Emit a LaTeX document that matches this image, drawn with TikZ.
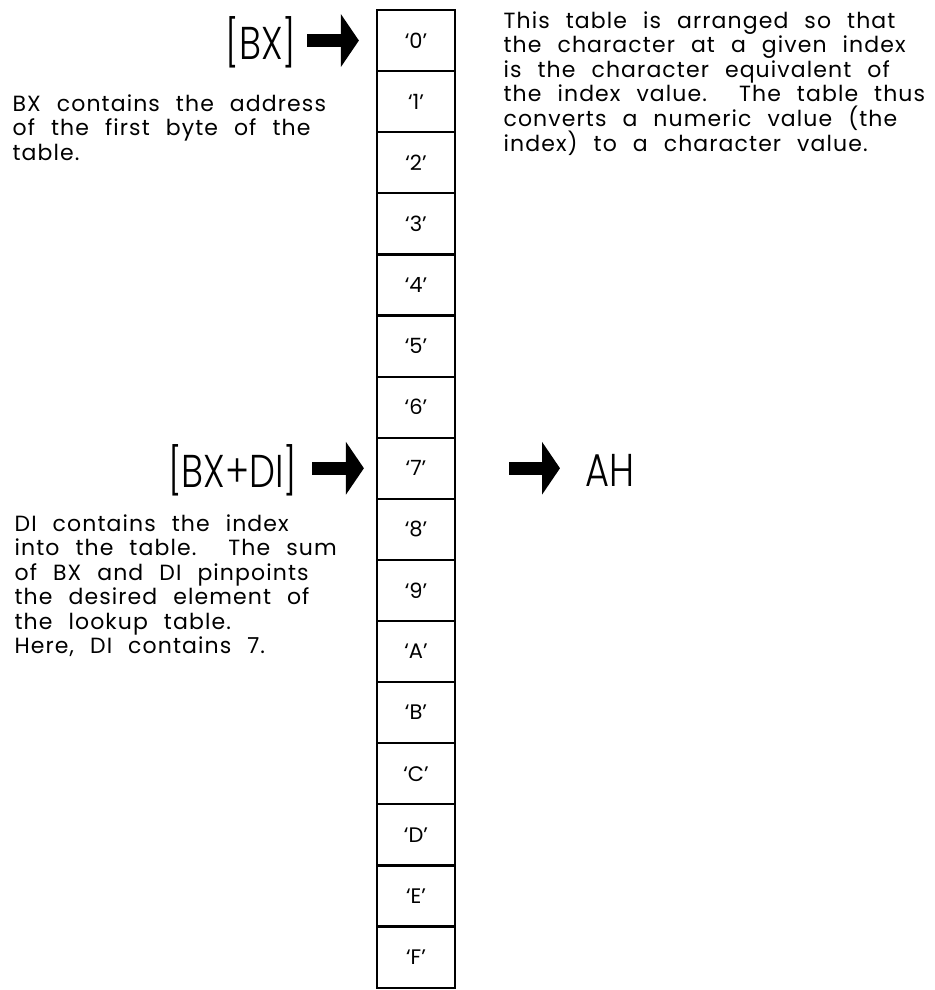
\documentclass[tikz,border=0pt]{standalone}
\usepackage{fontspec}
\setmainfont{Poppins}[LetterSpace=5, WordSpace=2.3]
\newfontfamily\regfont[FakeStretch=0.8]{Poppins Light}
\newfontfamily\cellfont{Poppins}
\usetikzlibrary{arrows.meta, positioning}
\tikzset{
  every picture/.style={line width=1.2pt},
  cell/.style={draw, line width=2.2pt, minimum width=78pt, minimum height=61.1pt, inner sep=0pt, font=\cellfont\fontsize{21}{21}\selectfont},
  reg/.style={inner sep=0pt, font=\regfont\fontsize{46}{46}\selectfont},
  note/.style={inner sep=0pt, align=left, font=\fontsize{22}{24.5}\selectfont},
  fat/.style={-{Triangle[length=18pt, width=52pt]}, line width=13pt},
}

\begin{document}
\begin{tikzpicture}[x=1pt, y=-1pt]
  \useasboundingbox (0,0) rectangle (934,990);
  % lookup table, one cell per entry
  \foreach \t [count=\k from 0] in {0,1,2,3,4,5,6,7,8,9,A,B,C,D,E,F}
    \node[cell] (c\k) at (416,40.55+61.1*\k) {‘\t’};
  % pointers into the table
  \node[reg, anchor=east] (bx) at (297,42) {[BX]};
  \node[reg, anchor=east] (bxdi) at (298,470) {[BX+DI]};
  \node[reg, anchor=west] (ah) at (585,470) {AH};
  \draw[fat, shorten <=10pt, shorten >=17pt] (bx.east |- c0) -- (c0.west);
  \draw[fat, shorten <=14pt, shorten >=12pt] (bxdi.east |- c7) -- (c7.west);
  \draw[fat, shorten <=53pt, shorten >=25pt] (c7.east) -- (ah.west |- c7);
  % explanations
  \node[note, anchor=north west] (first) at (12,94) {BX contains the address\\of the first byte of the\\table.};
  \node[note, anchor=north west] (about) at (503,11) {This table is arranged so that\\the character at a given index\\is the character equivalent of\\the index value.\ \ The table thus\\converts a numeric value (the\\index) to a character value.};
  \node[note, anchor=north west] (index) at (14,514) {DI contains the index\\into the table.\ \ The sum\\of BX and DI pinpoints\\the desired element of\\the lookup table.\\Here, DI contains 7.};
\end{tikzpicture}
\end{document}
